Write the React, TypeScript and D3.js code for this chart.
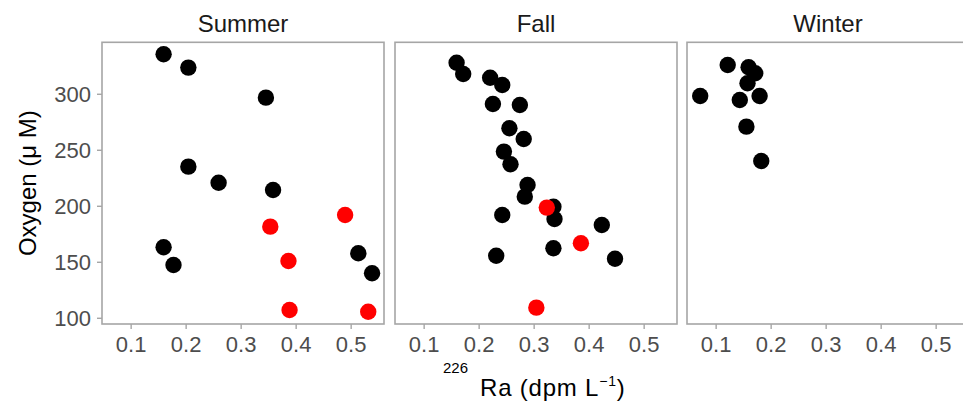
import React from "react";
import * as d3 from "d3";

const seasons = ["Summer", "Fall", "Winter"];
const xTicks = [0.1, 0.2, 0.3, 0.4, 0.5];
const yTicks = [100, 150, 200, 250, 300];

const summerRa = [0.159, 0.204, 0.345, 0.204, 0.259, 0.358, 0.159, 0.177, 0.513, 0.538, 0.353, 0.489, 0.386, 0.388, 0.531];
const summerO2 = [335.7, 323.8, 297, 235.4, 221, 214.6, 163.4, 147.6, 158, 140.2, 181.8, 192.2, 151.2, 107.4, 105.9];
const summerRed = [0, 0, 0, 0, 0, 0, 0, 0, 0, 0, 1, 1, 1, 1, 1];

const fallRa = [0.159, 0.171, 0.22, 0.242, 0.225, 0.274, 0.255, 0.281, 0.245, 0.257, 0.288, 0.283, 0.335, 0.337, 0.242, 0.423, 0.335, 0.231, 0.447, 0.323, 0.385, 0.304];
const fallO2 = [328.2, 318.1, 314.8, 308.3, 291.3, 290.4, 269.6, 260.1, 248.8, 237.5, 219, 208.6, 199.6, 188.7, 192.2, 183.3, 162.5, 155.9, 153.2, 198.8, 167, 109.5];
const fallRed = [0, 0, 0, 0, 0, 0, 0, 0, 0, 0, 0, 0, 0, 0, 0, 0, 0, 0, 0, 1, 1, 1];

const winterRa = [0.121, 0.159, 0.171, 0.157, 0.071, 0.143, 0.179, 0.155, 0.182];
const winterO2 = [326.2, 324.1, 318.8, 309.8, 298.5, 294.9, 298.5, 271.1, 240.4];
const winterRed = [0, 0, 0, 0, 0, 0, 0, 0, 0];

const panelData = [
  { ra: summerRa, o2: summerO2, red: summerRed },
  { ra: fallRa, o2: fallO2, red: fallRed },
  { ra: winterRa, o2: winterO2, red: winterRed },
];

const W = 963;
const H = 401;
const panelX0 = [102, 395, 687];
const panelW = 282;
const top = 42.3;
const bottom = 324;
const font = "'Liberation Sans', Arial, sans-serif";
const borderCol = "#a6a6a6";
const tickTextCol = "#4d4d4d";

export default function App() {
  const y = d3.scaleLinear().domain([94.9, 346.4]).range([bottom, top]);
  return (
    <svg width={W} height={H} style={{ position: "absolute", left: 0, top: 0, background: "#fff" }} fontFamily={font}>
      {seasons.map((s, i) => {
        const x = d3.scaleLinear().domain([0.047, 0.5597]).range([panelX0[i], panelX0[i] + panelW]);
        const d = panelData[i];
        const pts = d.ra.map((r, k) => ({ r, o: d.o2[k], red: d.red[k] }));
        const ordered = [...pts.filter((p) => !p.red), ...pts.filter((p) => p.red)];
        return (
          <g key={s}>
            <text x={panelX0[i] + panelW / 2} y={32} textAnchor="middle" fontSize={24} fill="#1a1a1a">{s}</text>
            <rect x={panelX0[i]} y={top} width={panelW} height={bottom - top} fill="none" stroke={borderCol} strokeWidth={1.6} />
            {xTicks.map((t) => (
              <g key={t}>
                <line x1={x(t)} x2={x(t)} y1={bottom} y2={bottom + 5} stroke={borderCol} strokeWidth={1.4} />
                <text x={x(t)} y={352} textAnchor="middle" fontSize={22} fill={tickTextCol}>{t.toFixed(1)}</text>
              </g>
            ))}
            {i === 0 && yTicks.map((t) => (
              <g key={t}>
                <line x1={panelX0[0] - 5} x2={panelX0[0]} y1={y(t)} y2={y(t)} stroke={borderCol} strokeWidth={1.4} />
                <text x={91} y={y(t)} dy="0.36em" textAnchor="end" fontSize={22} fill={tickTextCol}>{t}</text>
              </g>
            ))}
            {ordered.map((p, k) => (
              <circle key={k} cx={x(p.r)} cy={y(p.o)} r={8.2} fill={p.red ? "#ff0000" : "#000000"} />
            ))}
          </g>
        );
      })}
      <text transform={`translate(36,${(top + bottom) / 2}) rotate(-90)`} textAnchor="middle" fontSize={24} fill="#000">Oxygen (μ M)</text>
      <text x={443} y={373} fontSize={15} fill="#000">226</text>
      <text x={480} y={396} fontSize={24} fill="#000" letterSpacing={0.8}>
        Ra (dpm L<tspan fontSize={14} dy={-10}>−1</tspan><tspan dy={10}>)</tspan>
      </text>
    </svg>
  );
}
